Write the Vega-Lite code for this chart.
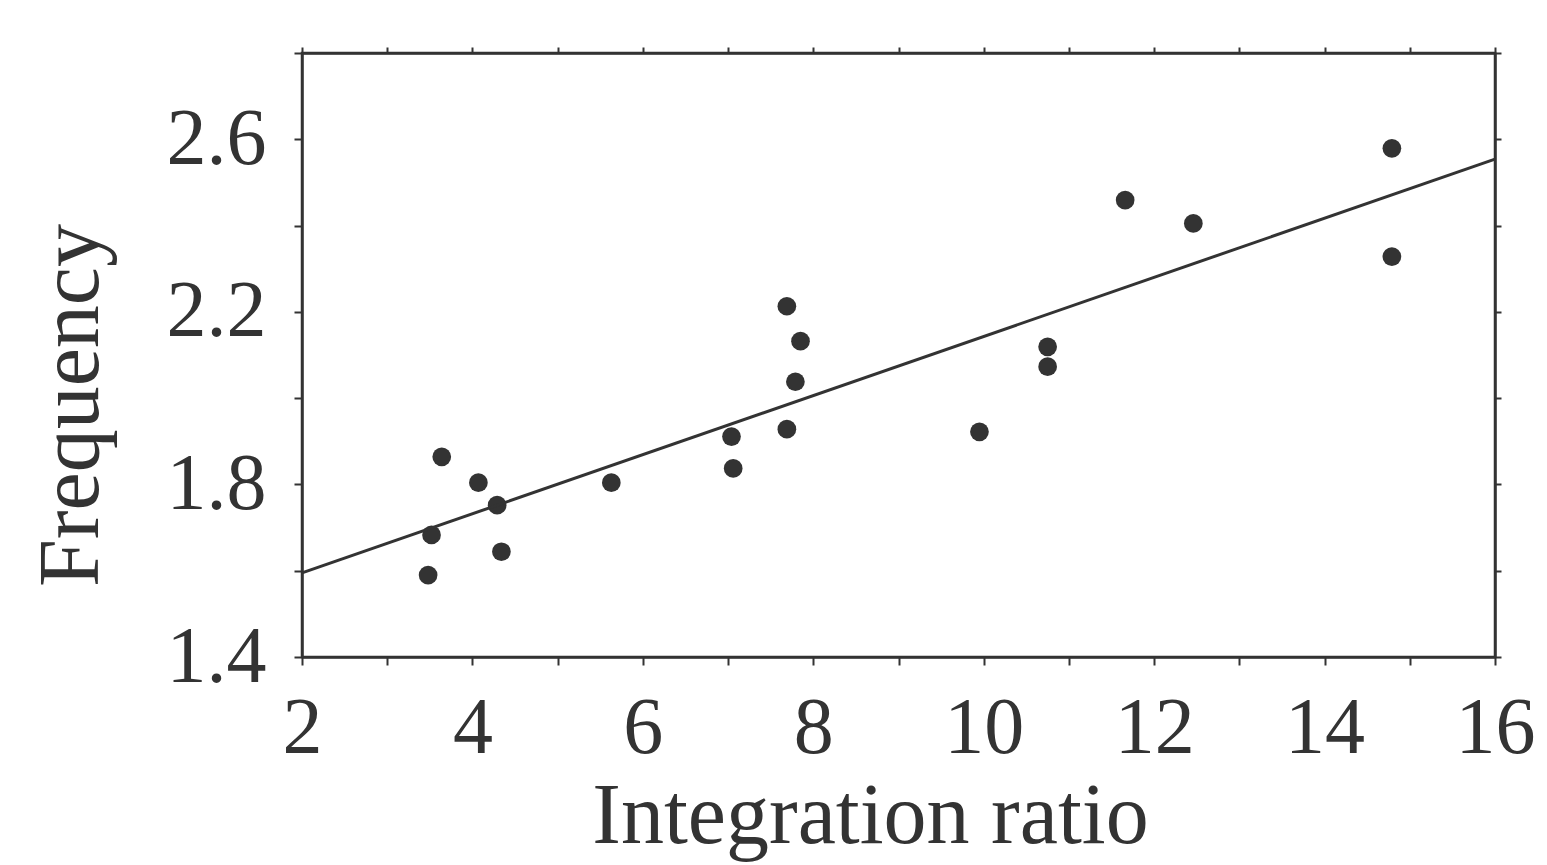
{
  "$schema": "https://vega.github.io/schema/vega-lite/v6.json",
  "width": 1193,
  "height": 604,
  "autosize": {"type": "none"},
  "padding": {"left": 302, "top": 53, "right": 52, "bottom": 208},
  "background": "white",
  "datasets": {
    "points": [
      {"ratio": 3.48, "frequency": 1.590},
      {"ratio": 3.52, "frequency": 1.683},
      {"ratio": 3.64, "frequency": 1.864},
      {"ratio": 4.07, "frequency": 1.804},
      {"ratio": 4.29, "frequency": 1.752},
      {"ratio": 4.34, "frequency": 1.644},
      {"ratio": 5.63, "frequency": 1.804},
      {"ratio": 7.04, "frequency": 1.911},
      {"ratio": 7.06, "frequency": 1.837},
      {"ratio": 7.69, "frequency": 2.213},
      {"ratio": 7.69, "frequency": 1.928},
      {"ratio": 7.79, "frequency": 2.038},
      {"ratio": 7.85, "frequency": 2.132},
      {"ratio": 9.95, "frequency": 1.922},
      {"ratio": 10.75, "frequency": 2.119},
      {"ratio": 10.75, "frequency": 2.073},
      {"ratio": 11.66, "frequency": 2.459},
      {"ratio": 12.46, "frequency": 2.405},
      {"ratio": 14.79, "frequency": 2.579},
      {"ratio": 14.79, "frequency": 2.328}
    ],
    "fit": [
      {"ratio": 2, "frequency": 1.595},
      {"ratio": 16, "frequency": 2.554}
    ]
  },
  "config": {
    "view": {"stroke": "#333", "strokeWidth": 2.5},
    "axis": {
      "grid": false,
      "domainColor": "#333",
      "domainWidth": 2.5,
      "tickColor": "#333",
      "tickWidth": 2,
      "tickSize": 8,
      "labelFont": "Liberation Serif",
      "titleFont": "Liberation Serif",
      "labelColor": "#333",
      "titleColor": "#333",
      "titleFontWeight": "normal"
    }
  },
  "layer": [
    {
      "data": {"name": "points"},
      "mark": {"type": "point", "filled": true, "shape": "circle", "size": 350, "color": "#333", "opacity": 1},
      "encoding": {
        "x": {
          "field": "ratio", "type": "quantitative",
          "scale": {"domain": [2, 16], "nice": false, "zero": false},
          "axis": {
            "orient": "bottom",
            "values": [2, 3, 4, 5, 6, 7, 8, 9, 10, 11, 12, 13, 14, 15, 16],
            "labelExpr": "datum.value % 2 == 0 ? datum.label : ''",
            "labelFontSize": 80,
            "labelPadding": 24,
            "labelFlush": false,
            "labelOverlap": false,
            "title": "Integration ratio",
            "titleFontSize": 86,
            "titleBaseline": "alphabetic",
            "titleX": 568,
            "titleY": 185
          }
        },
        "y": {
          "field": "frequency", "type": "quantitative",
          "scale": {"domain": [1.4, 2.8], "nice": false, "zero": false},
          "axis": {
            "orient": "left",
            "values": [1.4, 1.6, 1.8, 2.0, 2.2, 2.4, 2.6, 2.8],
            "format": ".1f",
            "labelExpr": "indexof(['1.4','1.8','2.2','2.6'], datum.label) >= 0 ? datum.label : ''",
            "labelFontSize": 80,
            "labelPadding": 28,
            "labelFlush": false,
            "labelOverlap": false,
            "title": "Frequency",
            "titleFontSize": 86,
            "titleAngle": -90,
            "titleAlign": "center",
            "titleBaseline": "alphabetic",
            "titleX": -205,
            "titleY": 352
          }
        }
      }
    },
    {
      "data": {"name": "fit"},
      "mark": {"type": "line", "color": "#333", "strokeWidth": 3},
      "encoding": {
        "x": {
          "field": "ratio", "type": "quantitative",
          "axis": {
            "orient": "top",
            "values": [2, 3, 4, 5, 6, 7, 8, 9, 10, 11, 12, 13, 14, 15, 16],
            "labels": false,
            "title": null,
            "tickSize": 6
          }
        },
        "y": {
          "field": "frequency", "type": "quantitative",
          "axis": {
            "orient": "right",
            "values": [1.4, 1.6, 1.8, 2.0, 2.2, 2.4, 2.6, 2.8],
            "labels": false,
            "title": null,
            "tickSize": 6
          }
        }
      }
    }
  ],
  "resolve": {"axis": {"x": "independent", "y": "independent"}}
}
